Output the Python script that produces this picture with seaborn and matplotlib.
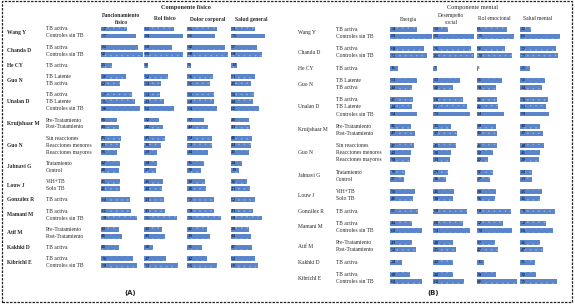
import matplotlib
matplotlib.use("Agg")
import matplotlib.pyplot as plt
import seaborn as sns
import pandas as pd
from matplotlib.patches import Rectangle

# estudios y grupos (filas)
estudios = ["Wang Y", "Chanda D", "He CY", "Guo N", "Unalan D", "Kruijshaar M", "Guo N",
            "Jahnavi G", "Louw J", "González R", "Mamani M", "Atif M", "Kakhki D", "Kibrichl E"]
grupos = [["TB activa", "Controles sin TB"],
          ["TB activa", "Controles sin TB"],
          ["TB activa"],
          ["TB Latente", "TB activa"],
          ["TB activa", "TB Latente", "Controles sin TB"],
          ["Pre-Tratamiento", "Post-Tratamiento"],
          ["Sin reacciones", "Reacciones menores", "Reacciones mayores"],
          ["Tratamiento", "Control"],
          ["VIH+TB", "Solo TB"],
          ["TB activa"],
          ["TB activa", "Controles sin TB"],
          ["Pre-Tratamiento", "Post-Tratamiento"],
          ["TB activa"],
          ["TB activa", "Controles sin TB"]]

# componente fisico (A)
titulos_a = ["Funcionamiento\nfísico", "Rol físico", "Dolor corporal", "Salud general"]
func_fisico = [57, 77, 81, 92, 25, 56, 42, 67, 75, 86, 36, 40, 45, 43, 36, 42, 40, 41, 41, 64, 65, 78, 40, 46, 40, 70, 78]
rol_fisico = [65, 84, 60, 85, 8, 52, 38, 34, 43, 65, 32, 42, 45, 36, 29, 28, 27, 41, 40, 43, 45, 71, 40, 45, 20, 47, 73]
dolor_corporal = [65, 61, 82, 88, 9, 56, 50, 59, 58, 64, 37, 44, 54, 53, 44, 36, 30, 39, 40, 57, 58, 73, 42, 49, 31, 42, 65]
salud_general = [53, 75, 57, 68, 13, 53, 45, 50, 48, 62, 40, 43, 46, 44, 41, 24, 19, 36, 43, 52, 49, 68, 39, 44, 47, 52, 60]

# componente mental (B)
titulos_b = ["Energía", "Desempeño\nsocial", "Rol emocional", "Salud mental"]
energia = [54, 83, 68, 73, 16, 53, 44, 45, 44, 54, 41, 49, 47, 42, 39, 30, 27, 50, 46, 55, 44, 63, 43, 52, 24, 39, 63]
desempeno_social = [30, 81, 76, 81, 7, 53, 40, 60, 67, 73, 35, 47, 45, 36, 33, 29, 26, 41, 39, 68, 60, 73, 40, 45, 40, 40, 62]
rol_emocional = [61, 75, 56, 70, 3, 51, 38, 41, 42, 54, 38, 40, 41, 32, 22, 32, 27, 38, 36, 68, 52, 70, 37, 42, 15, 38, 80]
salud_mental = [22, 81, 72, 77, 21, 51, 44, 56, 53, 59, 40, 47, 48, 41, 39, 24, 25, 45, 41, 70, 52, 66, 41, 47, 31, 32, 75]

W, H = 575, 304
SERIF = ["Liberation Serif", "DejaVu Serif"]
AZUL = "#5b85ca"

sns.set_theme(style="white")
plt.rcParams["hatch.linewidth"] = 0.4

fig = plt.figure(figsize=(W / 100, H / 100), dpi=100)


def fx(x):
    return x / W


def fy(y):
    return 1 - y / H


def posiciones(gap):
    pos = []
    y = 0.0
    for g in grupos:
        for _ in g:
            pos.append(y)
            y += 1
        y += gap
    return pos


def panel(cols, titulos, titulo, x_est, x_grp, x_col0, escala, y_top, y_bot, gap,
          peso, dx_tit, letra, x_letra):
    pos = posiciones(gap)
    pitch = (y_bot - y_top) / (pos[-1] - pos[0])
    top_px = y_top - pitch / 2
    bot_px = y_bot + pitch / 2

    def ypx(p):
        return y_top + (p - pos[0]) * pitch

    # etiquetas de filas
    i = 0
    for est, g in zip(estudios, grupos):
        ys = [ypx(pos[i + j]) for j in range(len(g))]
        fig.text(fx(x_est), fy(sum(ys) / len(ys)), est, family=SERIF, fontsize=4,
                 weight=peso, ha="left", va="center")
        for lab, yy in zip(g, ys):
            fig.text(fx(x_grp), fy(yy), lab, family=SERIF, fontsize=4,
                     ha="left", va="center")
        i += len(g)

    # encabezados
    x_mid = x_col0 + 43.3 * 1.5 + dx_tit
    fig.text(fx(x_mid), fy(7.5), titulo, family=SERIF, fontsize=4.5, weight=peso,
             ha="center", va="center")

    for k, (nombre, vals) in enumerate(zip(titulos, cols)):
        left = x_col0 + 43.3 * k
        fig.text(fx(left + dx_tit), fy(19), nombre, family=SERIF, fontsize=4,
                 weight=peso, ha="center", va="center", linespacing=1.5)
        ax = fig.add_axes([fx(left), fy(bot_px), escala * 100 / W, (bot_px - top_px) / H])
        df = pd.DataFrame({"pos": pos, "valor": vals})
        sns.barplot(data=df, x="valor", y="pos", orient="h", native_scale=True,
                    width=0.7, color=AZUL, saturation=1, errorbar=None, ax=ax)
        ax.set_xlim(0, 100)
        ax.set_ylim(pos[-1] + 0.5, pos[0] - 0.5)
        ax.axis("off")
        ax.patch.set_alpha(0)
        for p, v in zip(ax.patches, vals):
            p.set_hatch("...")
            p.set_edgecolor("#8eaee4")
            p.set_linewidth(0)
            ax.text(p.get_x() + 1.2, p.get_y() + p.get_height() / 2, str(v),
                    family=SERIF, fontsize=3.8, color="#0d1630", ha="left", va="center")

    fig.text(fx(x_letra), fy(293.5), letra, family="DejaVu Sans", fontsize=5,
             weight="bold", ha="center", va="center")


panel([func_fisico, rol_fisico, dolor_corporal, salud_general], titulos_a,
      "Componente físico", 7, 45.7, 100.7, 0.46, 29, 265.7, 0.63, "bold", 20.5, "(A)", 130)
panel([energia, desempeno_social, rol_emocional, salud_mental], titulos_b,
      "Componente mental", 298.3, 335.7, 390, 0.5, 29.3, 281.7, 0.75, "normal", 18, "(B)", 433)

fig.add_artist(Rectangle((fx(2), fy(302)), 570 / W, 301 / H, fill=False,
                         transform=fig.transFigure, lw=0.9, ls=(0, (2, 1)), color="#222222"))

fig.savefig("out.png", dpi=100)
